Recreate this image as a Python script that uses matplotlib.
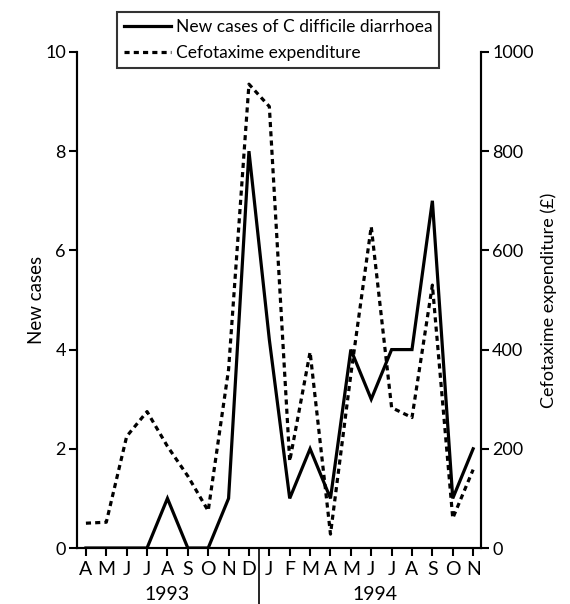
import matplotlib.pyplot as plt
import matplotlib.transforms as mtransforms

plt.rcParams['font.family'] = ['Lato', 'DejaVu Sans']

# months from April 1993 to November 1994
meses = ["A", "M", "J", "J", "A", "S", "O", "N", "D",
         "J", "F", "M", "A", "M", "J", "J", "A", "S", "O", "N"]
anios = ["1993", "1994"]

casos_nuevos = [0, 0, 0, 0, 1, 0, 0, 1, 8,
                4.2, 1, 2, 1, 4, 3, 4, 4, 7, 1, 2]
gasto_cefotaxima = [50, 52, 225, 275, 205, 145, 75, 360, 935,
                    890, 175, 395, 28, 350, 648, 283, 263, 530, 60, 158]

x = list(range(len(meses)))

fig = plt.figure(figsize=(5.7, 6.04), dpi=100)
ax = fig.add_axes([0.135, 0.0927, 0.709, 0.8213])
ax2 = ax.twinx()

l1, = ax.plot(x, casos_nuevos, color="black", lw=2.3, solid_joinstyle="miter",
              label="New cases of C difficile diarrhoea")
l2, = ax2.plot(x, gasto_cefotaxima, color="black", lw=2.3, linestyle=(0, (1.6, 1.3)),
               label="Cefotaxime expenditure")

ax.set_xlim(-0.44, 19.39)
ax.set_ylim(0, 10)
ax2.set_ylim(0, 1000)
ax.set_yticks([0, 2, 4, 6, 8, 10])
ax2.set_yticks([0, 200, 400, 600, 800, 1000])

ax.set_xticks(x)
ax.set_xticklabels(meses)

for a in (ax, ax2):
    a.spines["top"].set_visible(False)
    for s in a.spines.values():
        s.set_linewidth(1.5)
    a.tick_params(width=1.5, length=6, labelsize=13, pad=2)
ax.tick_params(axis="x", labelsize=14, pad=3)

ax.set_ylabel("New cases", fontsize=13.5, labelpad=0)
ax2.set_ylabel("Cefotaxime expenditure (£)", fontsize=13, labelpad=5)

# separador entre años y etiquetas de año
trans = mtransforms.blended_transform_factory(ax.transData, ax.transAxes)
ax.plot([8.5, 8.5], [0, -0.12], color="black", lw=1.2, transform=trans, clip_on=False)
ax.text(4.0, -0.093, anios[0], transform=trans, ha="center", va="center", fontsize=14)
ax.text(14.2, -0.093, anios[1], transform=trans, ha="center", va="center", fontsize=14)

leg = fig.legend(handles=[l1, l2], loc="upper left", bbox_to_anchor=(0.205, 0.980),
                 fontsize=12.5, frameon=True, fancybox=False, edgecolor="black",
                 handlelength=2.7, handletextpad=0.3, borderpad=0.4,
                 labelspacing=0.6, borderaxespad=0)
leg.get_frame().set_linewidth(1.5)

fig.savefig("out.png", dpi=100)
